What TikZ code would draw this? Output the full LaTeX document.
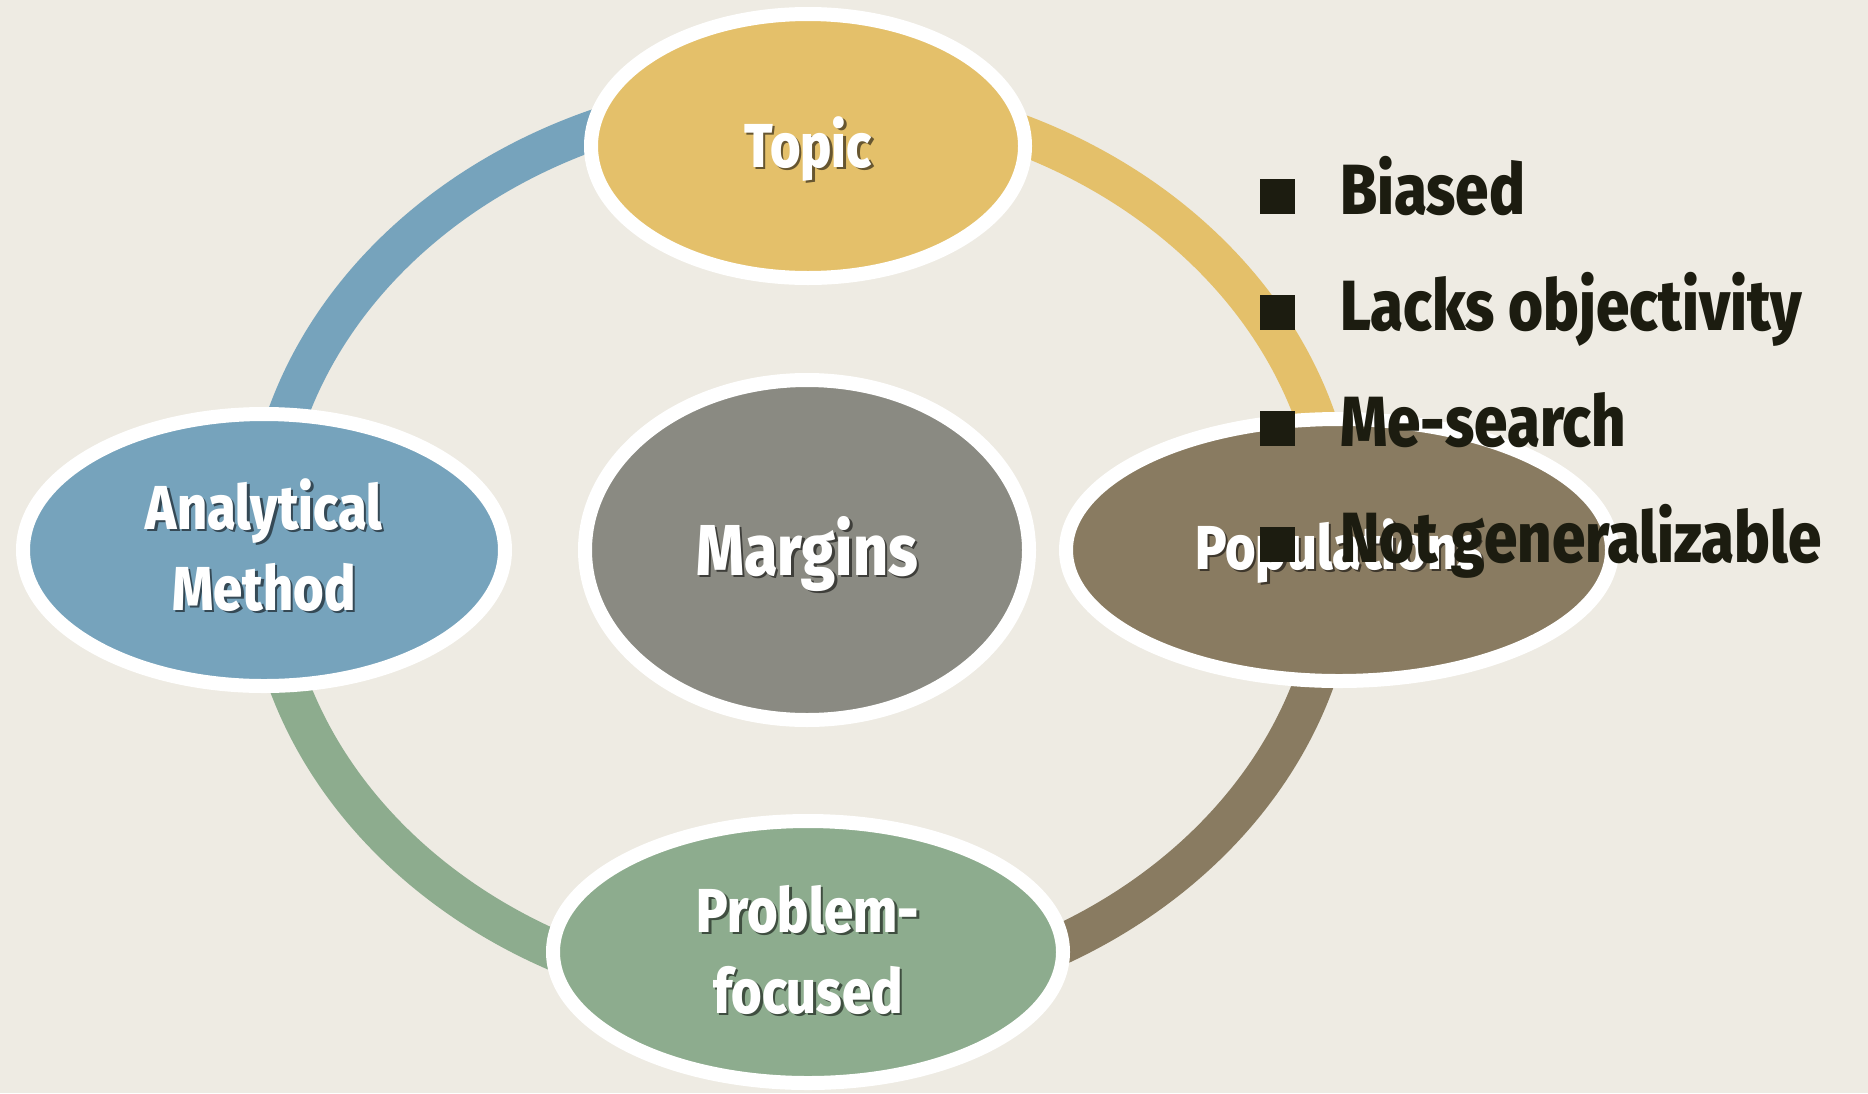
\documentclass[tikz,border=0pt]{standalone}
\usepackage{fontspec}
\newfontfamily\dfont{Fira Sans ExtraBold}[FakeStretch=0.845]
\usetikzlibrary{shapes.geometric,calc}

\definecolor{bg}{HTML}{EEEBE3}
\definecolor{cyellow}{HTML}{E4C06A}
\definecolor{cblue}{HTML}{76A3BC}
\definecolor{cgray}{HTML}{8A8A82}
\definecolor{cbrown}{HTML}{897B61}
\definecolor{cgreen}{HTML}{8DAC8E}
\definecolor{ink}{HTML}{1C1C10}

% white text with a soft dark drop shadow underneath
\newcommand\shadowed[2]{\leavevmode\rlap{\kern2.5pt\raisebox{-2.5pt}{\textcolor{#1}{#2}}}#2}

\tikzset{
  ring/.style={line width=40pt, line cap=butt},
  bubble/.style={ellipse, draw=white, line width=14pt, inner sep=0pt},
  lbl/.style={font=\dfont\fontsize{62}{62}\selectfont, text=white, inner sep=0pt, anchor=base},
  bigLbl/.style={lbl, font=\dfont\fontsize{72}{72}\selectfont},
  bulletsq/.style={fill=ink, minimum size=35pt, inner sep=0pt, anchor=south west},
  bullettxt/.style={font=\dfont\fontsize{71}{71}\selectfont, text=ink, inner sep=0pt, anchor=base west},
}

\begin{document}
\begin{tikzpicture}[x=1pt,y=-1pt]
\useasboundingbox[fill=bg] (0,0) rectangle (1868,1093);

% the coloured ring behind the bubbles
\draw[ring, cblue]   (801,95)   arc[start angle=90,  end angle=180, x radius=537pt, y radius=453pt];
\draw[ring, cyellow] (801,95)   arc[start angle=90,  end angle=0,   x radius=537pt, y radius=453pt];
\draw[ring, cbrown]  (1338,548) arc[start angle=0,   end angle=-90, x radius=537pt, y radius=453pt];
\draw[ring, cgreen]  (264,548)  arc[start angle=180, end angle=270, x radius=537pt, y radius=453pt];

% bubbles
\node (topic)    [bubble, fill=cyellow, minimum width=434pt, minimum height=264pt] at (808,146) {};
\node (margins)  [bubble, fill=cgray,   minimum width=444pt, minimum height=340pt] at (807,550) {};
\node (analytic) [bubble, fill=cblue,   minimum width=482pt, minimum height=272pt] at (264,550) {};
\node (popul)    [bubble, fill=cbrown,  minimum width=546pt, minimum height=262pt] at (1339,550) {};
\node (problem)  [bubble, fill=cgreen,  minimum width=510pt, minimum height=262pt] at (808,952) {};

% bubble labels
\node (topic-t)    [lbl]    at ($(topic)+(0,21)$)    {\shadowed{cyellow!45!black}{Topic}};
\node (margins-t)  [bigLbl] at ($(margins)+(0,25)$)  {\shadowed{cgray!45!black}{Margins}};
\node (analytic-a) [lbl]    at ($(analytic)+(0,-21)$) {\shadowed{cblue!45!black}{Analytical}};
\node (analytic-b) [lbl]    at ($(analytic)+(0,60)$)  {\shadowed{cblue!45!black}{Method}};
\node (popul-t)    [lbl]    at ($(popul)+(0,19)$)    {\shadowed{cbrown!45!black}{Populations}};
\node (problem-a)  [lbl]    at ($(problem)+(0,-20)$) {\shadowed{cgreen!45!black}{Problem-}};
\node (problem-b)  [lbl]    at ($(problem)+(0,61)$)  {\shadowed{cgreen!45!black}{focused}};

% bullet list
\node (sq1) [bulletsq] at (1260,214) {};
\node (sq2) [bulletsq] at (1260,330) {};
\node (sq3) [bulletsq] at (1260,446) {};
\node (sq4) [bulletsq] at (1260,562) {};
\node (item1) [bullettxt] at (1340,214) {Biased};
\node (item2) [bullettxt] at (1340,330) {Lacks objectivity};
\node (item3) [bullettxt] at (1340,446) {Me-search};
\node (item4) [bullettxt] at (1340,562) {Not generalizable};
\end{tikzpicture}
\end{document}
